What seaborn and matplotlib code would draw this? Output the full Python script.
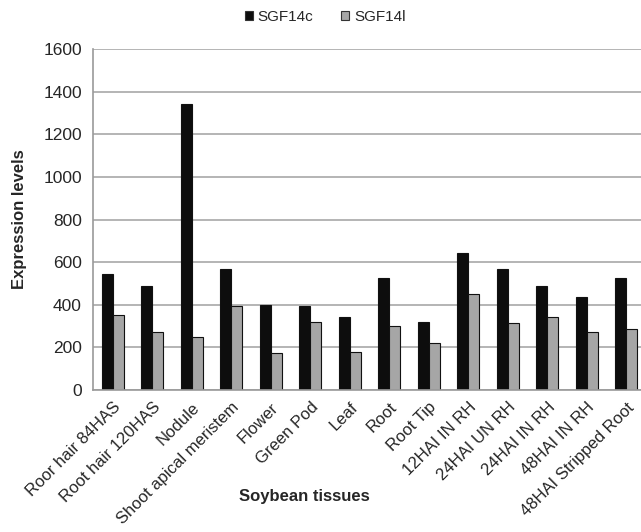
import pandas as pd
import numpy as np
import matplotlib
matplotlib.use("Agg")
import matplotlib.pyplot as plt
import seaborn as sns
from matplotlib.patches import Patch

sns.set_style("white")
plt.rcParams["font.family"] = ["Liberation Sans", "DejaVu Sans"]

# data
tissues = [
    "Roor hair 84HAS", "Root hair 120HAS", "Nodule", "Shoot apical meristem",
    "Flower", "Green Pod", "Leaf", "Root", "Root Tip", "12HAI IN RH",
    "24HAI UN RH", "24HAI IN RH", "48HAI IN RH", "48HAI Stripped Root",
]
sgf14c = [545, 490, 1342, 567, 398, 395, 344, 525, 318, 642, 567, 490, 436, 525]
sgf14l = [352, 271, 248, 393, 175, 318, 180, 302, 219, 450, 316, 343, 271, 285]
series = ["SGF14c", "SGF14l"]
colors = ["#0d0d0d", "#a6a6a6"]

df = pd.DataFrame({
    "tissue": tissues * 2,
    "value": sgf14c + sgf14l,
    "gene": [series[0]] * len(tissues) + [series[1]] * len(tissues),
})

fig = plt.figure(figsize=(6.41, 5.32), dpi=100)
ax = fig.add_axes([93 / 641, 1 - 390 / 532, 553 / 641, 341 / 532])

sns.barplot(data=df, x="tissue", y="value", hue="gene", palette=colors,
            width=0.56, edgecolor="#111111", linewidth=0.8, legend=False, ax=ax)

ax.set_ylim(0, 1600)
ax.set_xlim(-0.5, len(tissues) - 0.5)
ax.set_yticks(np.arange(0, 1601, 200))
ax.yaxis.grid(True, color="#a8a8a8", linewidth=1.2)
ax.set_axisbelow(True)

for s in ["top", "right"]:
    ax.spines[s].set_visible(False)
for s in ["left", "bottom"]:
    ax.spines[s].set_color("#9a9a9a")
    ax.spines[s].set_linewidth(1.2)

# category labels at centres, tick marks at boundaries
ax.set_xticks(np.arange(len(tissues)))
ax.set_xticklabels(tissues, rotation=45, ha="right", rotation_mode="anchor", fontsize=12)
ax.set_xticks(np.arange(-0.5, len(tissues)), minor=True)
ax.tick_params(axis="x", which="major", length=0, pad=7)
ax.tick_params(axis="x", which="minor", length=5, color="#9a9a9a", width=1.2, direction="out")
ax.tick_params(axis="y", length=5, color="#9a9a9a", width=1.2, labelsize=12.5, pad=3)

ax.set_ylabel("Expression levels", fontsize=12, fontweight="bold", labelpad=12)
ax.set_xlabel("Soybean tissues", fontsize=12, fontweight="bold")
ax.xaxis.set_label_coords(0.383, -0.29)
ax.xaxis.label.set_va("top")

handles = [Patch(facecolor=c, edgecolor="#333333", linewidth=0.8) for c in colors]
fig.legend(handles, series, loc="center", bbox_to_anchor=(325 / 641, 1 - 17 / 532),
           ncol=2, frameon=False, fontsize=11, handlelength=0.55, handleheight=0.55,
           handletextpad=0.3, columnspacing=1.8)

fig.savefig("out.png", dpi=100)
